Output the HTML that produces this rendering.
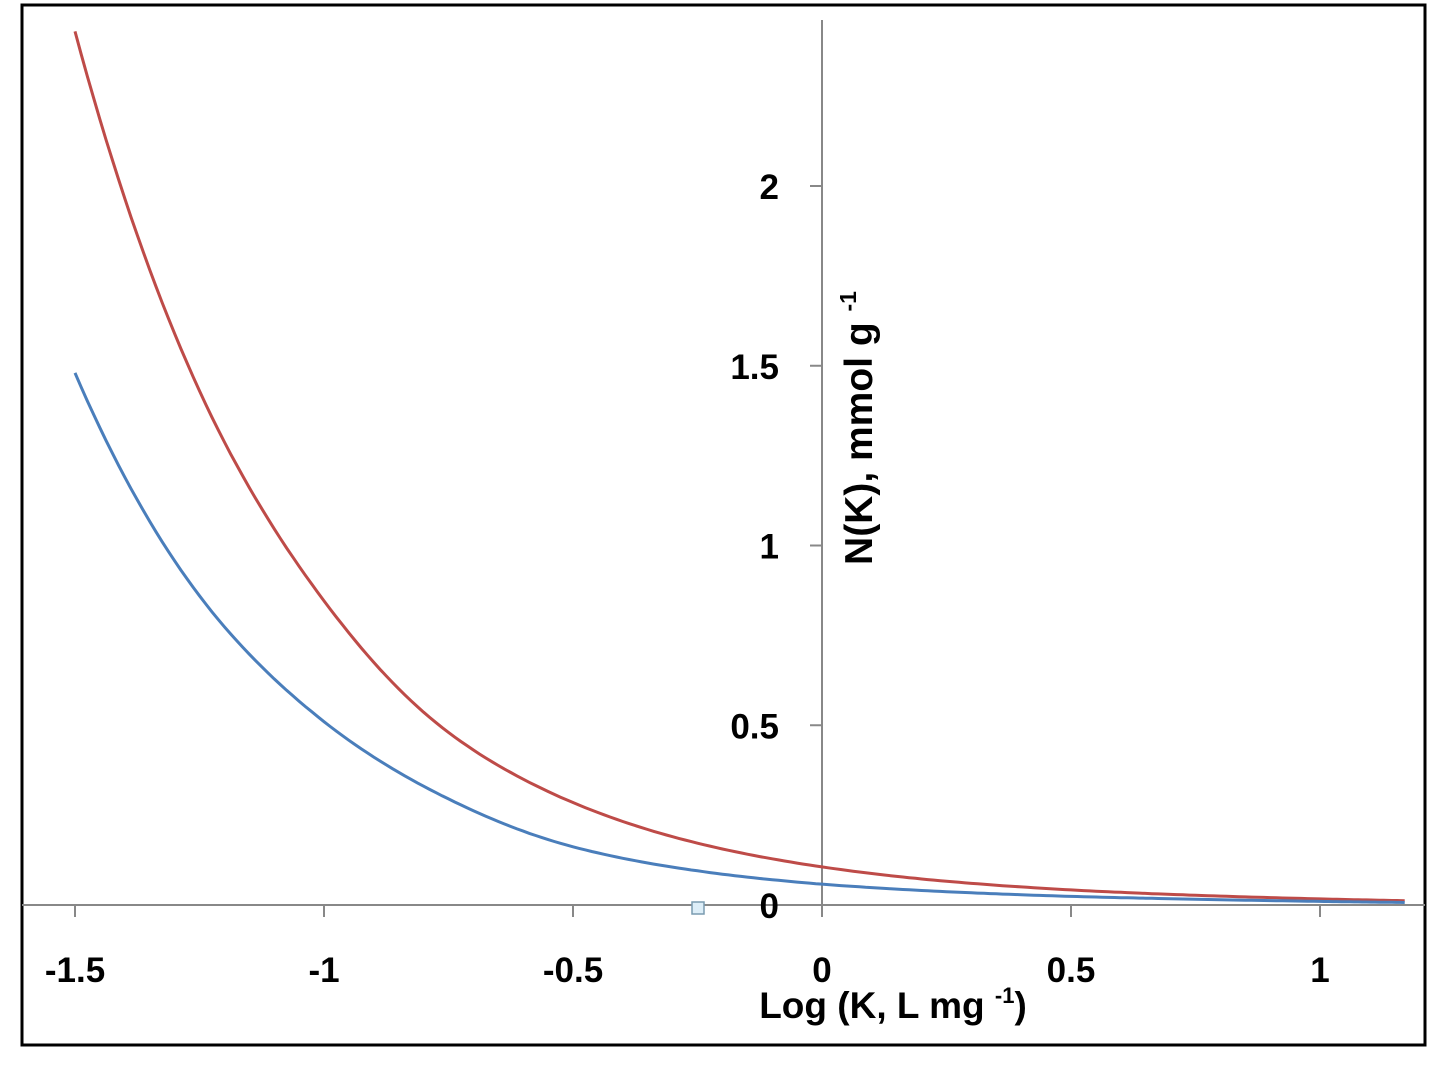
<!DOCTYPE html>
<html><head><meta charset="utf-8"><style>
html,body{margin:0;padding:0;background:#fff;}
svg{display:block;font-family:"Liberation Sans",sans-serif;}
</style></head><body>
<svg id="chart" width="1446" height="1067" viewBox="0 0 1446 1067">
<rect x="22" y="5" width="1403" height="1040" fill="#fff" stroke="#000" stroke-width="3"/>
<g id="axes"></g>
<g id="series"></g>
<rect x="692" y="902" width="12" height="12" fill="#ddeef8" stroke="#7a9bb0" stroke-width="1.5"/>
<text x="893" y="1018" text-anchor="middle" font-size="37" font-weight="bold">Log (K, L mg <tspan font-size="22" dy="-15">-1</tspan><tspan dy="15">)</tspan></text>
<text transform="translate(872,428) rotate(-90)" text-anchor="middle" font-size="39" font-weight="bold">N(K), mmol g <tspan font-size="23" dy="-16">-1</tspan></text>
</svg>
<script>
const xVals=[-1.5,-1.25,-1,-0.75,-0.5,-0.25,0,0.25,0.5,0.75,1,1.17];
const redVals=[2.43,1.43,0.846,0.48,0.285,0.172,0.106,0.066,0.042,0.027,0.017,0.012];
const blueVals=[1.48,0.86,0.51,0.295,0.162,0.095,0.058,0.037,0.024,0.016,0.01,0.007];
const xTicks=[-1.5,-1,-0.5,0,0.5,1];
const xTickLabels=["-1.5","-1","-0.5","0","0.5","1"];
const yTicks=[0,0.5,1,1.5,2];
const yTickLabels=["0","0.5","1","1.5","2"];
const NS="http://www.w3.org/2000/svg";
function sx(v){return 822+v*498;}
function sy(v){return 905-v*359.5;}
const axes=document.getElementById('axes');
const series=document.getElementById('series');
function mk(tag,attrs,parent){const e=document.createElementNS(NS,tag);for(const k in attrs)e.setAttribute(k,attrs[k]);parent.appendChild(e);return e;}
let xl=mk('line',{x1:22,x2:1425,y1:sy(0),y2:sy(0),stroke:'#888','stroke-width':2},axes);


let yl=mk('line',{x1:sx(0),x2:sx(0),y1:20,y2:sy(0)+12,stroke:'#888','stroke-width':2},axes);


xTicks.forEach((t,i)=>{
  let l=mk('line',{x1:sx(t),x2:sx(t),y1:sy(0),y2:sy(0)+12,stroke:'#888','stroke-width':2},axes);
  
  
  let tx=mk('text',{x:sx(t),y:982,'text-anchor':'middle','font-size':35,'font-weight':'bold'},axes);
  tx.textContent=xTickLabels[i];
  
  
});
yTicks.forEach((t,i)=>{
  let l=mk('line',{x1:sx(0)-12,x2:sx(0),y1:sy(t),y2:sy(t),stroke:'#888','stroke-width':2},axes);
  
  
  let tx=mk('text',{x:779,y:sy(t)+13,'text-anchor':'end','font-size':35,'font-weight':'bold'},axes);
  tx.textContent=yTickLabels[i];
  
  
});
// smooth interpolation in log space (Catmull-Rom on log values), sampled densely
function logCurve(xs,ys){
  const L=ys.map(v=>Math.log(v));
  const pts=[];
  for(let i=0;i<xs.length-1;i++){
    const h=xs[i+1]-xs[i];
    const m0=i>0?(L[i+1]-L[i-1])/(xs[i+1]-xs[i-1]):(L[1]-L[0])/(xs[1]-xs[0]);
    const m1=i<xs.length-2?(L[i+2]-L[i])/(xs[i+2]-xs[i]):(L[i+1]-L[i])/h;
    for(let s=0;s<20;s++){
      const t=s/20,t2=t*t,t3=t2*t;
      const v=(2*t3-3*t2+1)*L[i]+(t3-2*t2+t)*h*m0+(-2*t3+3*t2)*L[i+1]+(t3-t2)*h*m1;
      pts.push([sx(xs[i]+t*h),sy(Math.exp(v))]);
    }
  }
  pts.push([sx(xs[xs.length-1]),sy(ys[ys.length-1])]);
  return 'M'+pts.map(p=>p[0].toFixed(1)+','+p[1].toFixed(1)).join(' L');
}
let r=mk('path',{d:logCurve(xVals,redVals),fill:'none',stroke:'#be4b48','stroke-width':3},series);


let b=mk('path',{d:logCurve(xVals,blueVals),fill:'none',stroke:'#4a7ebb','stroke-width':3},series);


</script>
</body></html>
